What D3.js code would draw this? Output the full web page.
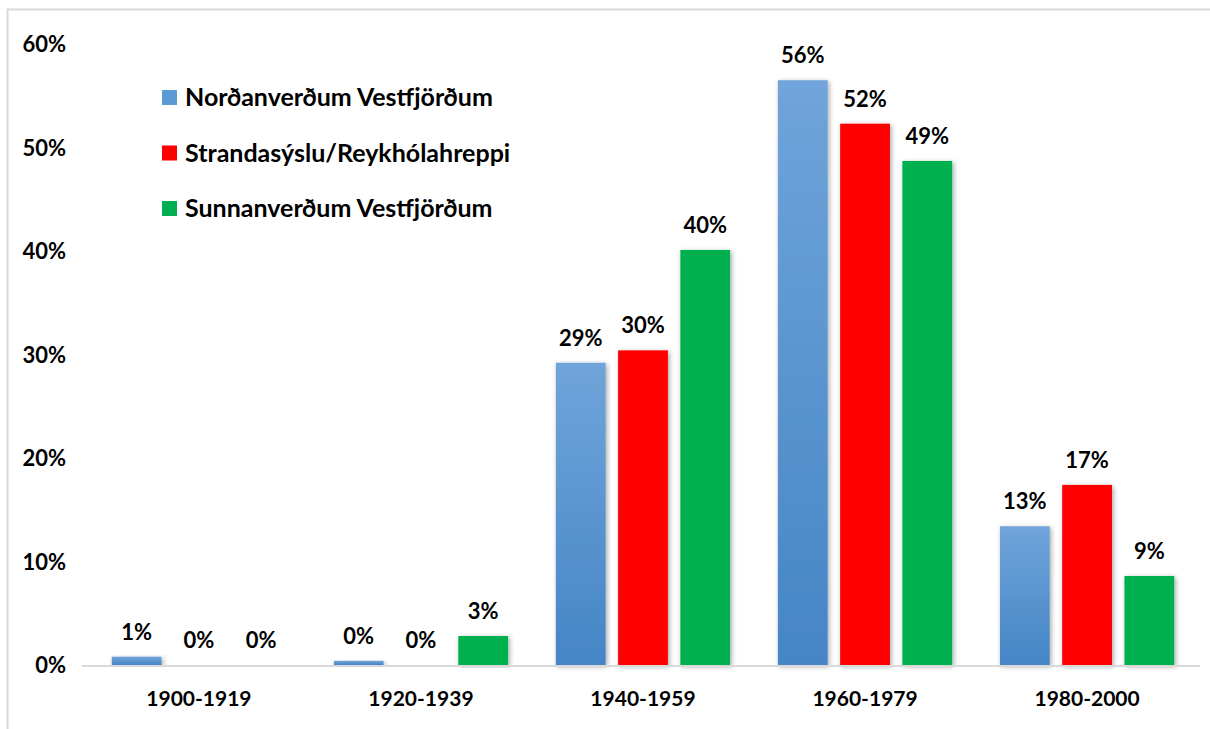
<!DOCTYPE html>
<html>
<head>
<meta charset="utf-8">
<script src="https://cdn.jsdelivr.net/npm/d3@7"></script>
<style>
  body { margin: 0; background: #fff; }
  text { font-family: Lato, "Open Sans", sans-serif; font-weight: bold; fill: #000; }
</style>
</head>
<body>
<script>
// periods on the x axis
const periods = ["1900-1919", "1920-1939", "1940-1959", "1960-1979", "1980-2000"];
// the three regions (legend order)
const regions = ["Norðanverðum Vestfjörðum", "Strandasýslu/Reykhólahreppi", "Sunnanverðum Vestfjörðum"];
// share per period, in percent
const nordan = [0.8, 0.4, 29.2, 56.5, 13.4];
const strand = [0, 0, 30.4, 52.3, 17.4];
const sunnan = [0, 2.8, 40.1, 48.7, 8.6];
// shown labels
const nordanLabels = ["1%", "0%", "29%", "56%", "13%"];
const strandLabels = ["0%", "0%", "30%", "52%", "17%"];
const sunnanLabels = ["0%", "3%", "40%", "49%", "9%"];
const yTicks = [0, 10, 20, 30, 40, 50, 60];

const width = 1210, height = 729;
const margin = {top: 44, right: 12, bottom: 64, left: 88};

let svg = d3.select("body").append("svg")
  .attr("width", width)
  .attr("height", height);

let defs = svg.append("defs");
let grad = defs.append("linearGradient")
  .attr("id", "blueGrad")
  .attr("x1", 0).attr("y1", 0).attr("x2", 0).attr("y2", 1);
grad.append("stop").attr("offset", "0%").attr("stop-color", "#70a4da");
grad.append("stop").attr("offset", "100%").attr("stop-color", "#4585c6");

let shadow = defs.append("filter")
  .attr("id", "shadow")
  .attr("x", "-30%").attr("y", "-10%").attr("width", "160%").attr("height", "120%");
shadow.append("feDropShadow")
  .attr("dx", 1.5).attr("dy", 1.5)
  .attr("stdDeviation", 2.5)
  .attr("flood-color", "#000")
  .attr("flood-opacity", 0.35);

// chart area border (only top and left are in view)
svg.append("path")
  .attr("d", "M7.5," + (height + 5) + "V9.5H" + (width + 5))
  .attr("fill", "none")
  .attr("stroke", "#d9d9d9")
  .attr("stroke-width", 2);

let x = d3.scaleBand()
  .domain(periods)
  .range([margin.left, width - margin.right])
  .paddingInner(0.215)
  .paddingOuter(0.107);

let y = d3.scaleLinear()
  .domain([0, 60])
  .range([height - margin.bottom, margin.top]);

let series = [
  {name: regions[0], values: nordan, labels: nordanLabels, fill: "url(#blueGrad)", swatch: "#5b9bd5"},
  {name: regions[1], values: strand, labels: strandLabels, fill: "#ff0000", swatch: "#ff0000"},
  {name: regions[2], values: sunnan, labels: sunnanLabels, fill: "#00b050", swatch: "#00b050"}
];

let x1 = d3.scaleBand()
  .domain(d3.range(series.length))
  .range([0, x.bandwidth()])
  .paddingInner(0.2);

// y axis: labels only
let yAxis = d3.axisLeft(y)
  .tickValues(yTicks)
  .tickFormat(d => d + "%")
  .tickSize(0)
  .tickPadding(0);
let yG = svg.append("g")
  .attr("transform", "translate(66,0)")
  .call(yAxis);
yG.select(".domain").remove();
yG.selectAll("text")
  .attr("font-size", 22)
  .attr("font-family", null)
  .attr("dy", "0.35em");

// bars
let groups = svg.selectAll("g.series")
  .data(series)
  .join("g")
  .attr("class", "series");

groups.each(function(s, si) {
  let g = d3.select(this);
  let rows = periods.map((p, i) => ({period: p, value: s.values[i], label: s.labels[i]}));
  g.selectAll("rect")
    .data(rows.filter(d => d.value > 0))
    .join("rect")
    .attr("x", d => x(d.period) + x1(si))
    .attr("y", d => y(d.value))
    .attr("width", x1.bandwidth())
    .attr("height", d => y(0) - y(d.value))
    .attr("fill", s.fill)
    .attr("filter", "url(#shadow)");
  g.selectAll("text")
    .data(rows)
    .join("text")
    .attr("x", d => x(d.period) + x1(si) + x1.bandwidth() / 2)
    .attr("y", d => y(d.value) - 17)
    .attr("text-anchor", "middle")
    .attr("font-size", 22)
    .text(d => d.label);
});

// x axis baseline and labels
svg.append("line")
  .attr("x1", 82).attr("x2", width - margin.right + 2)
  .attr("y1", y(0) + 1).attr("y2", y(0) + 1)
  .attr("stroke", "#d9d9d9")
  .attr("stroke-width", 2);

let xAxis = d3.axisBottom(x).tickSize(0).tickPadding(0);
let xG = svg.append("g")
  .attr("transform", "translate(0," + (y(0) + 34) + ")")
  .call(xAxis);
xG.select(".domain").remove();
xG.selectAll("text")
  .attr("font-size", 21)
  .attr("font-family", null)
  .attr("dy", "0.35em");

// legend
let legend = svg.selectAll("g.legend")
  .data(series)
  .join("g")
  .attr("class", "legend")
  .attr("transform", (d, i) => "translate(162," + (97 + i * 55.5) + ")");
legend.append("rect")
  .attr("x", 0).attr("y", -7)
  .attr("width", 15).attr("height", 15)
  .attr("fill", d => d.swatch);
legend.append("text")
  .attr("x", 23)
  .attr("dy", "0.36em")
  .attr("font-size", 25)
  .text(d => d.name);
</script>
</body>
</html>
